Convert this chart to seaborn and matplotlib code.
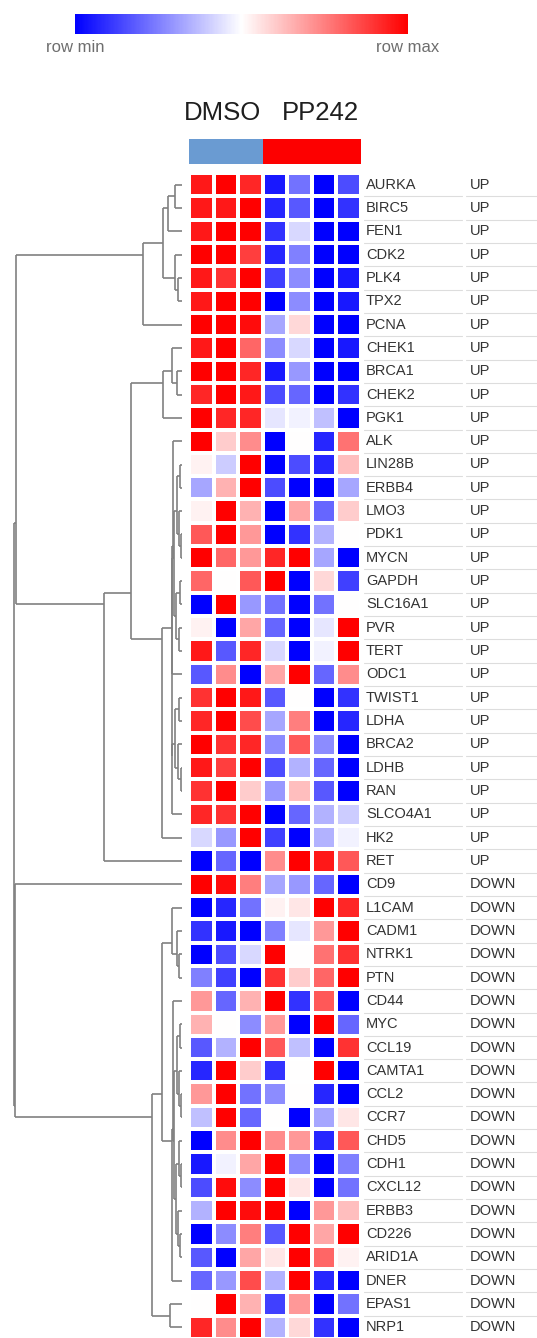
import numpy as np
import pandas as pd
import matplotlib
matplotlib.use("Agg")
import matplotlib.pyplot as plt
import seaborn as sns
from matplotlib.colors import LinearSegmentedColormap, ListedColormap, Normalize
from matplotlib.cm import ScalarMappable

# ---------------- data ----------------
samples = ["DMSO_1", "DMSO_2", "DMSO_3", "PP242_1", "PP242_2", "PP242_3", "PP242_4"]
sample_groups = ["DMSO", "DMSO", "DMSO", "PP242", "PP242", "PP242", "PP242"]
group_names = ["DMSO", "PP242"]

up_genes = ["AURKA", "BIRC5", "FEN1", "CDK2", "PLK4", "TPX2", "PCNA", "CHEK1", "BRCA1",
            "CHEK2", "PGK1", "ALK", "LIN28B", "ERBB4", "LMO3", "PDK1", "MYCN", "GAPDH",
            "SLC16A1", "PVR", "TERT", "ODC1", "TWIST1", "LDHA", "BRCA2", "LDHB", "RAN",
            "SLCO4A1", "HK2", "RET"]
down_genes = ["CD9", "L1CAM", "CADM1", "NTRK1", "PTN", "CD44", "MYC", "CCL19", "CAMTA1",
              "CCL2", "CCR7", "CHD5", "CDH1", "CXCL12", "ERBB3", "CD226", "ARID1A", "DNER",
              "EPAS1", "NRP1"]

up_values = [
    [0.90, 1.00, 0.85, -0.90, -0.55, -1.00, -0.70],
    [0.90, 0.90, 1.00, -0.85, -0.65, -1.00, -0.80],
    [0.90, 1.00, 1.00, -0.80, -0.15, -1.00, -1.00],
    [1.00, 1.00, 0.75, -0.85, -0.50, -1.00, -1.00],
    [0.90, 0.80, 1.00, -0.75, -0.45, -1.00, -0.90],
    [0.90, 1.00, 1.00, -1.00, -0.45, -1.00, -0.90],
    [1.00, 1.00, 0.95, -0.35, 0.15, -1.00, -1.00],
    [0.90, 1.00, 0.60, -0.45, -0.15, -1.00, -0.90],
    [1.00, 1.00, 0.85, -0.90, -0.40, -1.00, -1.00],
    [0.85, 1.00, 0.90, -0.70, -0.60, -1.00, -0.80],
    [1.00, 0.85, 0.85, -0.10, -0.05, -0.25, -1.00],
    [1.00, 0.20, 0.45, -1.00, 0.00, -0.85, 0.55],
    [0.05, -0.20, 1.00, -1.00, -0.70, -0.85, 0.25],
    [-0.35, 0.30, 1.00, -0.70, -1.00, -1.00, -0.35],
    [0.05, 1.00, 0.30, -1.00, 0.35, -0.60, 0.20],
    [0.65, 1.00, 0.40, -1.00, -0.80, -0.30, 0.00],
    [1.00, 0.60, 0.40, 0.85, 1.00, -0.35, -1.00],
    [0.60, 0.00, 0.65, 1.00, -1.00, 0.15, -0.75],
    [-1.00, 1.00, -0.40, -0.55, -1.00, -0.55, 0.00],
    [0.05, -1.00, 0.35, -0.60, -1.00, -0.10, 1.00],
    [0.90, -0.65, 0.85, -0.15, -1.00, -0.05, 1.00],
    [-0.65, 0.45, -1.00, 0.35, 1.00, -0.60, 0.45],
    [0.80, 1.00, 0.90, -0.65, 0.00, -1.00, -0.80],
    [0.85, 1.00, 0.70, -0.35, 0.50, -1.00, -0.85],
    [1.00, 0.80, 0.85, -0.45, 0.65, -0.45, -1.00],
    [0.90, 0.75, 1.00, -0.70, -0.30, -0.60, -1.00],
    [0.80, 1.00, 0.20, -0.40, 0.25, -0.65, -1.00],
    [0.85, 0.80, 1.00, -1.00, -0.60, -0.30, -0.20],
    [-0.15, -0.40, 1.00, -0.75, -1.00, -0.30, -0.05],
    [-1.00, -0.60, -1.00, 0.45, 1.00, 0.90, 0.65],
]
down_values = [
    [1.00, 0.95, 0.50, -0.35, -0.40, -0.60, -1.00],
    [-1.00, -0.85, -0.55, 0.05, 0.10, 1.00, 0.85],
    [-0.80, -0.90, -1.00, -0.50, -0.10, 0.40, 1.00],
    [-1.00, -0.70, -0.15, 1.00, 0.00, 0.55, 0.80],
    [-0.50, -0.75, -1.00, 0.80, 0.20, 0.60, 1.00],
    [0.40, -0.60, 0.30, 1.00, -0.80, 0.65, -1.00],
    [0.30, 0.00, -0.45, 0.40, -1.00, 1.00, -0.60],
    [-0.65, -0.30, 1.00, 0.65, -0.25, -1.00, 0.80],
    [-0.85, 1.00, 0.20, -0.80, 0.00, 1.00, -1.00],
    [0.40, 1.00, -0.55, -0.45, 0.00, -0.85, -1.00],
    [-0.25, 1.00, -0.60, 0.00, -1.00, -0.35, 0.10],
    [-1.00, 0.45, 1.00, 0.45, 0.40, -0.85, 0.65],
    [-0.90, -0.05, 0.35, 1.00, -0.45, -1.00, -0.50],
    [-0.70, 0.95, -0.45, 1.00, 0.10, -1.00, -0.55],
    [-0.30, 1.00, 0.95, 1.00, -1.00, 0.40, 0.25],
    [-1.00, -0.45, 0.50, -0.65, 1.00, 0.35, 1.00],
    [-0.65, -1.00, 0.35, 0.10, 1.00, 0.60, 0.05],
    [-0.60, -0.40, 0.70, -0.30, 1.00, -0.85, -1.00],
    [0.00, 1.00, 0.30, -0.75, 0.40, -1.00, -0.55],
    [0.85, 0.45, 1.00, -0.30, 0.15, -0.80, -1.00],
]

# row dendrogram: (height, left, right); leaves are gene names
tree_up_top = (0.232, (0.113, (0.083, (0.042, "AURKA", "BIRC5"), "FEN1"),
                       (0.042, "CDK2", (0.024, "PLK4", "TPX2"))), "PCNA")
tree_chek = (0.113, (0.060, "CHEK1", (0.030, "BRCA1", "CHEK2")), "PGK1")
tree_a2 = (0.045, (0.030, (0.010, "LIN28B", "ERBB4"), (0.018, "LMO3", (0.007, "PDK1", "MYCN"))),
           (0.035, (0.012, "GAPDH", "SLC16A1"), (0.020, "PVR", "TERT")))
tree_b1 = (0.040, (0.015, "TWIST1", "LDHA"), (0.025, "BRCA2", (0.008, "LDHB", "RAN")))
tree_c = (0.119, (0.060, (0.058, (0.055, "ALK", tree_a2), "ODC1"),
                  (0.059, tree_b1, "SLCO4A1")), "HK2")
tree_mid = (0.464, (0.304, tree_chek, tree_c), "RET")
tree_up = (0.990, tree_up_top, tree_mid)
tree_d2b = (0.045, (0.030, (0.012, "MYC", "CCL19"), (0.020, "CAMTA1", (0.008, "CCL2", "CCR7"))),
            (0.035, (0.015, "CHD5", (0.006, "CDH1", "CXCL12")),
             (0.025, "ERBB3", (0.010, "CD226", "ARID1A"))))
tree_d1 = (0.060, "L1CAM", (0.030, "CADM1", (0.015, "NTRK1", "PTN")))
tree_d2 = (0.060, (0.055, "CD44", tree_d2b), "DNER")
tree_down = (0.179, (0.119, tree_d1, tree_d2), (0.071, "EPAS1", "NRP1"))
row_tree = (1.000, tree_up, (0.995, "CD9", tree_down))

# ---------------- style ----------------
sns.set_style("white")
plt.rcParams["font.family"] = ["Liberation Sans", "DejaVu Sans"]

W, H = 537, 1338
fig = plt.figure(figsize=(W / 100, H / 100), dpi=100)


def add_ax(x0, y0, x1, y1):
    return fig.add_axes([x0 / W, 1 - y1 / H, (x1 - x0) / W, (y1 - y0) / H])


genes = up_genes + down_genes
direction = ["UP"] * len(up_genes) + ["DOWN"] * len(down_genes)
df = pd.DataFrame(up_values + down_values, index=genes, columns=samples)
n_rows = len(genes)

cmap = LinearSegmentedColormap.from_list("rowscale", ["#0000ff", "#ffffff", "#ff0000"])

HM_TOP, HM_BOT = 173, 1339

# heatmap
ax_hm = add_ax(189, HM_TOP, 361, HM_BOT)
sns.heatmap(df, ax=ax_hm, cmap=cmap, vmin=-1, vmax=1, cbar=False,
            linewidths=1.6, linecolor="white", xticklabels=False, yticklabels=False)
ax_hm.set_xlabel("")
ax_hm.set_ylabel("")

# annotation bar
ax_ann = add_ax(189, 139, 361, 164)
grp_codes = np.array([[group_names.index(g) for g in sample_groups]])
sns.heatmap(grp_codes, ax=ax_ann, cmap=ListedColormap(["#6a9bd2", "#fd0000"]),
            vmin=-0.5, vmax=1.5, cbar=False, xticklabels=False, yticklabels=False)
for g, xoff in zip(group_names, [-0.15, 0.35]):
    idx = [i for i, s in enumerate(sample_groups) if s == g]
    xc = (min(idx) + max(idx) + 1) / 2 + xoff
    ax_ann.text(xc, -0.55, g, ha="center", va="bottom", fontsize=18.5, color="#1e1e1e",
                clip_on=False)

# colour scale legend
ax_cb = add_ax(75, 14, 408, 34)
cb = fig.colorbar(ScalarMappable(norm=Normalize(-1, 1), cmap=cmap), cax=ax_cb,
                  orientation="horizontal")
cb.set_ticks([])
cb.outline.set_visible(False)
fig.text(75 / W, 1 - 48 / H, "row min", ha="center", va="center", fontsize=12, color="#6e6e6e")
fig.text(408 / W, 1 - 48 / H, "row max", ha="center", va="center", fontsize=12, color="#6e6e6e")

# row dendrogram
ax_dg = add_ax(14, HM_TOP, 182, HM_BOT)
leaf_pos = {g: i + 0.5 for i, g in enumerate(genes)}


def draw(node):
    if isinstance(node, str):
        return [leaf_pos[node]], 0.0
    h, left, right = node
    ll, lh = draw(left)
    rl, rh = draw(right)
    ly, ry = np.mean(ll), np.mean(rl)
    kw = dict(color="#808080", lw=1.2, solid_capstyle="butt", clip_on=False)
    ax_dg.plot([lh, h], [ly, ly], **kw)
    ax_dg.plot([rh, h], [ry, ry], **kw)
    ax_dg.plot([h, h], [ly, ry], **kw)
    return ll + rl, h


draw(row_tree)
ax_dg.set_xlim(1.0, 0.0)
ax_dg.set_ylim(n_rows, 0)
ax_dg.axis("off")

# row labels
ax_lb = add_ax(362, HM_TOP, W, HM_BOT)
ax_lb.set_xlim(362, W)
ax_lb.set_ylim(n_rows, 0)
ax_lb.axis("off")
for i, (g, d) in enumerate(zip(genes, direction)):
    ax_lb.text(366, i + 0.5, g, ha="left", va="center", fontsize=10.5, color="#333333")
    ax_lb.text(470, i + 0.5, d, ha="left", va="center", fontsize=10.5, color="#333333")
    ax_lb.plot([364, 462], [i + 1, i + 1], color="#dddddd", lw=0.8)
    ax_lb.plot([466, W], [i + 1, i + 1], color="#dddddd", lw=0.8)

fig.savefig("out.png", dpi=100)
